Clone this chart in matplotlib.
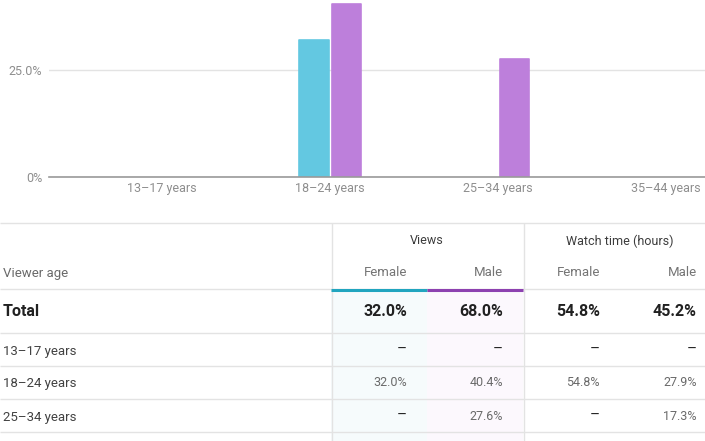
import matplotlib
matplotlib.use("Agg")
import matplotlib.pyplot as plt
from matplotlib.patches import Rectangle

plt.rcParams["font.family"] = ["Roboto", "DejaVu Sans"]

# chart data (percent of views)
AGES = ["13–17 years", "18–24 years", "25–34 years", "35–44 years"]
FEMALE_VIEWS = [0.0, 32.0, 0.0, 0.0]
MALE_VIEWS = [0.0, 40.4, 27.6, 0.0]
Y_TICKS = [0, 25]
Y_TICK_LABELS = ["0%", "25.0%"]

# table data (None -> dash)
ROW_LABELS = ["13–17 years", "18–24 years", "25–34 years"]
TOTAL = [32.0, 68.0, 54.8, 45.2]
TABLE_VALUES = [
    [None, None, None, None],
    [32.0, 40.4, 54.8, 27.9],
    [None, 27.6, None, 17.3],
]
GROUPS = ["Views", "Watch time (hours)"]
SUBHEADS = ["Female", "Male", "Female", "Male"]

FEMALE_BAR = "#63c8e1"
MALE_BAR = "#bd7fdb"
FEMALE_LINE = "#21a5bf"
MALE_LINE = "#8d41b0"
GRID = "#e3e3e3"

W, H = 705, 441
fig = plt.figure(figsize=(W / 100, H / 100), dpi=100)
fig.patch.set_facecolor("white")

# ---- table (pixel coordinates) ----
tax = fig.add_axes([0, 0, 1, 1])
tax.set_xlim(0, W)
tax.set_ylim(H, 0)
tax.axis("off")

col_split = [331, 427, 523]
value_right = [407, 503, 600, 697]
header_line = 289
row_lines = [333, 366, 399, 432]
row_text_y = [351, 384, 417]

tax.add_patch(Rectangle((col_split[0], header_line), col_split[1] - col_split[0], H - header_line,
                        facecolor="#f6fbfc", edgecolor="none", zorder=0))
tax.add_patch(Rectangle((col_split[1], header_line), col_split[2] - col_split[1], H - header_line,
                        facecolor="#fcf8fd", edgecolor="none", zorder=0))

tax.hlines([222.5, header_line] + row_lines, 0, W, colors=GRID, lw=1, zorder=1)
tax.vlines([col_split[0] + 0.5, col_split[2] + 0.5], 222.5, H, colors=GRID, lw=1, zorder=1)
tax.hlines(header_line + 0.5, col_split[0], col_split[1], colors=FEMALE_LINE, lw=2.2, zorder=2)
tax.hlines(header_line + 0.5, col_split[1], col_split[2], colors=MALE_LINE, lw=2.2, zorder=2)

tax.text((col_split[0] + col_split[2]) / 2, 241, GROUPS[0], ha="center", va="center",
         fontsize=9, color="#3c3c3c")
tax.text(620, 241, GROUPS[1], ha="center", va="center", fontsize=9, color="#3c3c3c")
tax.text(3, 273, "Viewer age", ha="left", va="center", fontsize=9.5, color="#6a6a6a")
for x, s in zip(value_right, SUBHEADS):
    tax.text(x, 273, s, ha="right", va="center", fontsize=9.5, color="#757575")

tax.text(3, 311, "Total", ha="left", va="center", fontsize=11.5, fontweight="bold", color="#212121")
for x, v in zip(value_right, TOTAL):
    tax.text(x, 311, f"{v:.1f}%", ha="right", va="center", fontsize=11.5,
             fontweight="bold", color="#212121")

for y, label, vals in zip(row_text_y, ROW_LABELS, TABLE_VALUES):
    tax.text(3, y, label, ha="left", va="center", fontsize=9.5, color="#424242")
    for x, v in zip(value_right, vals):
        if v is None:
            tax.text(x, y - 1.5, "–", ha="right", va="center", fontsize=11, color="#212121")
        else:
            tax.text(x, y - 1, f"{v:.1f}%", ha="right", va="center", fontsize=9, color="#6a6a6a")

# ---- bar chart ----
ax_left, ax_top, ax_bottom = 49, 0, 177
ax = fig.add_axes([ax_left / W, (H - ax_bottom) / H, (W - ax_left) / W, (ax_bottom - ax_top) / H])
ax.patch.set_alpha(0)

x = list(range(len(AGES)))
bw = 0.178
off = 0.098
ax.bar([i - off for i in x], FEMALE_VIEWS, width=bw, color=FEMALE_BAR, edgecolor=FEMALE_BAR,
       linewidth=[1.2 if v > 0 else 0 for v in FEMALE_VIEWS], joinstyle="round", zorder=3)
ax.bar([i + off for i in x], MALE_VIEWS, width=bw, color=MALE_BAR, edgecolor=MALE_BAR,
       linewidth=[1.2 if v > 0 else 0 for v in MALE_VIEWS], joinstyle="round", zorder=3)

ax.set_xlim(-0.673, 3.232)
ax.set_ylim(0, 41.36)
ax.set_yticks(Y_TICKS)
ax.set_yticklabels(Y_TICK_LABELS)
ax.set_xticks(x)
ax.set_xticklabels(AGES)
ax.tick_params(axis="both", length=0, labelsize=9, colors="#8e8e8e")
ax.tick_params(axis="y", pad=5)
ax.tick_params(axis="x", pad=3.5)
ax.yaxis.grid(True, color=GRID, lw=1)
ax.set_axisbelow(True)
for side in ["top", "right", "left"]:
    ax.spines[side].set_visible(False)
ax.spines["bottom"].set_color("#9a9a9a")
ax.spines["bottom"].set_linewidth(1.2)
ax.spines["bottom"].set_zorder(4)

fig.savefig("out.png", dpi=100)
